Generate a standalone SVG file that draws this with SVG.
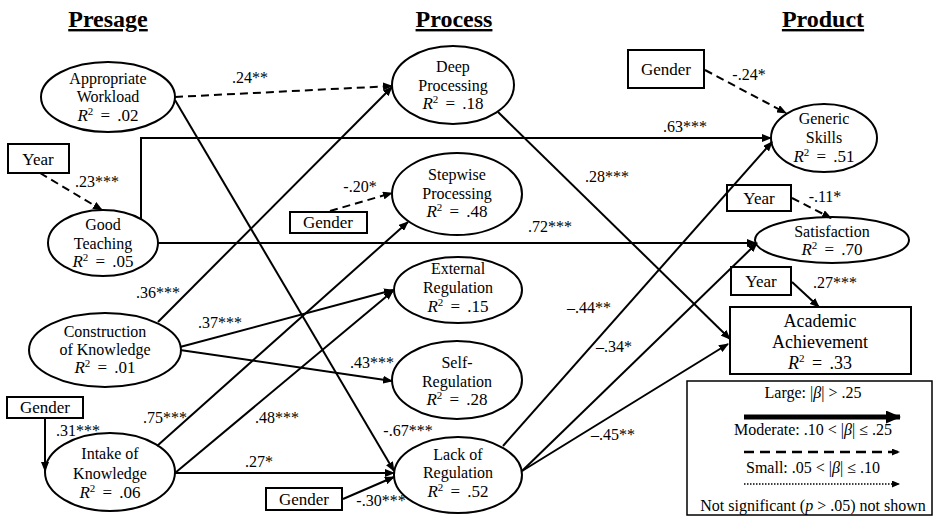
<svg xmlns="http://www.w3.org/2000/svg" width="934" height="516" viewBox="0 0 934 516" font-family="'Liberation Serif', 'DejaVu Serif', serif">
<style>
text{font-family:'Liberation Serif','DejaVu Serif',serif;font-size:16px;fill:#000;text-anchor:middle}
.title{font-size:24px;font-weight:bold;text-decoration:underline}
.box{font-size:17px}
.big{font-size:18px}
.r2{font-size:17px;word-spacing:3px}
.n ellipse,.n rect{fill:#fff;stroke:#000;stroke-width:2}
.c path{stroke:#000;stroke-width:2;fill:none}
.c .d{stroke-dasharray:8 5}
.i{font-style:italic}
.sup{font-size:11px}
</style>
<defs>
<marker id="ah" viewBox="0 0 10 8" refX="9" refY="4" markerWidth="10" markerHeight="8" markerUnits="userSpaceOnUse" orient="auto"><path d="M0,0 L10,4 L0,8 z" fill="#000"/></marker>
<marker id="ahL" viewBox="0 0 15 13" refX="14" refY="6.5" markerWidth="15" markerHeight="13" markerUnits="userSpaceOnUse" orient="auto"><path d="M0,0 L15,6.5 L0,13 z" fill="#000"/></marker>
<marker id="ahS" viewBox="0 0 8 7" refX="7" refY="3.5" markerWidth="8" markerHeight="7" markerUnits="userSpaceOnUse" orient="auto"><path d="M0,0 L8,3.5 L0,7 z" fill="#000"/></marker>
</defs>

<g id="titles">
<text class="title" x="108" y="27">Presage</text>
<text class="title" x="454" y="27">Process</text>
<text class="title" x="823" y="27">Product</text>
</g>

<g class="n">
<g id="appropriate-workload"><ellipse cx="108" cy="97" rx="67" ry="35"/><text x="108" y="84">Appropriate</text><text x="108" y="102">Workload</text><text class="r2" x="108" y="121"><tspan class="i">R</tspan><tspan class="sup" dy="-6">2</tspan><tspan dy="6"> = .02</tspan></text></g>
<g id="good-teaching"><ellipse cx="103" cy="243" rx="55" ry="33"/><text x="103" y="230">Good</text><text x="103" y="249">Teaching</text><text class="r2" x="103" y="267"><tspan class="i">R</tspan><tspan class="sup" dy="-6">2</tspan><tspan dy="6"> = .05</tspan></text></g>
<g id="construction-of-knowledge"><ellipse cx="105" cy="350" rx="76" ry="37"/><text x="105" y="337">Construction</text><text x="105" y="355">of Knowledge</text><text class="r2" x="105" y="373"><tspan class="i">R</tspan><tspan class="sup" dy="-6">2</tspan><tspan dy="6"> = .01</tspan></text></g>
<g id="intake-of-knowledge"><ellipse cx="110" cy="472" rx="65" ry="39"/><text x="110" y="459">Intake of</text><text x="110" y="479">Knowledge</text><text class="r2" x="110" y="498"><tspan class="i">R</tspan><tspan class="sup" dy="-6">2</tspan><tspan dy="6"> = .06</tspan></text></g>
<g id="deep-processing"><ellipse cx="453" cy="85" rx="61" ry="39"/><text x="453" y="72">Deep</text><text x="453" y="91">Processing</text><text class="r2" x="453" y="109"><tspan class="i">R</tspan><tspan class="sup" dy="-6">2</tspan><tspan dy="6"> = .18</tspan></text></g>
<g id="stepwise-processing"><ellipse cx="457" cy="194" rx="65" ry="41"/><text x="457" y="180">Stepwise</text><text x="457" y="199">Processing</text><text class="r2" x="457" y="217"><tspan class="i">R</tspan><tspan class="sup" dy="-6">2</tspan><tspan dy="6"> = .48</tspan></text></g>
<g id="external-regulation"><ellipse cx="458" cy="290" rx="64" ry="33"/><text x="458" y="274">External</text><text x="458" y="293">Regulation</text><text class="r2" x="458" y="312"><tspan class="i">R</tspan><tspan class="sup" dy="-6">2</tspan><tspan dy="6"> = .15</tspan></text></g>
<g id="self-regulation"><ellipse cx="457" cy="380" rx="65" ry="39"/><text x="457" y="368">Self-</text><text x="457" y="387">Regulation</text><text class="r2" x="457" y="405"><tspan class="i">R</tspan><tspan class="sup" dy="-6">2</tspan><tspan dy="6"> = .28</tspan></text></g>
<g id="lack-of-regulation"><ellipse cx="458" cy="475" rx="64" ry="38"/><text x="458" y="460">Lack of</text><text x="458" y="478">Regulation</text><text class="r2" x="458" y="497"><tspan class="i">R</tspan><tspan class="sup" dy="-6">2</tspan><tspan dy="6"> = .52</tspan></text></g>
<g id="generic-skills"><ellipse cx="824" cy="138" rx="53" ry="34"/><text x="824" y="124">Generic</text><text x="824" y="143">Skills</text><text class="r2" x="824" y="162"><tspan class="i">R</tspan><tspan class="sup" dy="-6">2</tspan><tspan dy="6"> = .51</tspan></text></g>
<g id="satisfaction"><ellipse cx="832" cy="240" rx="77" ry="23"/><text x="832" y="237">Satisfaction</text><text class="r2" x="832" y="255"><tspan class="i">R</tspan><tspan class="sup" dy="-6">2</tspan><tspan dy="6"> = .70</tspan></text></g>
<g id="academic-achievement"><rect x="730" y="307" width="181" height="67"/><text class="big" x="820" y="327">Academic</text><text class="big" x="820" y="348">Achievement</text><text class="big" x="820" y="369" word-spacing="3"><tspan class="i">R</tspan><tspan class="sup" dy="-7">2</tspan><tspan dy="7"> = .33</tspan></text></g>
<g id="year-1"><rect x="8" y="144" width="61" height="29"/><text class="box" x="38" y="165">Year</text></g>
<g id="gender-1"><rect x="290" y="212" width="77" height="21"/><text class="box" x="328" y="228">Gender</text></g>
<g id="gender-2"><rect x="7" y="397" width="76" height="21"/><text class="box" x="45" y="413">Gender</text></g>
<g id="gender-3"><rect x="266" y="488" width="76" height="22"/><text class="box" x="304" y="505">Gender</text></g>
<g id="gender-4"><rect x="628" y="50" width="76" height="38"/><text class="box" x="666" y="75">Gender</text></g>
<g id="year-2"><rect x="727" y="185" width="64" height="26"/><text class="box" x="759" y="204">Year</text></g>
<g id="year-3"><rect x="731" y="267" width="60" height="28"/><text class="box" x="761" y="287">Year</text></g>
</g>

<g id="connectors" class="c">
<path class="d" d="M175,97 L392,86" marker-end="url(#ah)"/>
<path d="M175,100 L394,471" marker-end="url(#ah)"/>
<path d="M141,219 V138 H771" marker-end="url(#ah)"/>
<path class="d" d="M40,173 L102,210" marker-end="url(#ah)"/>
<path d="M158,243 H756" marker-end="url(#ah)"/>
<path class="d" d="M330,211 L392,193" marker-end="url(#ah)"/>
<path d="M158,322 L392,87" marker-end="url(#ah)"/>
<path d="M180,347 L393,290" marker-end="url(#ah)"/>
<path d="M180,350 L392,381" marker-end="url(#ah)"/>
<path d="M157,446 L408,222" marker-end="url(#ah)"/>
<path d="M175,473 L393,291" marker-end="url(#ah)"/>
<path d="M175,473 H394" marker-end="url(#ah)"/>
<path d="M343,499 L394,477" marker-end="url(#ah)"/>
<path d="M45,418 V471" marker-end="url(#ah)"/>
<path d="M498,112 L730,339" marker-end="url(#ah)"/>
<path d="M503,446 L772,142" marker-end="url(#ah)"/>
<path d="M522,471 L757,243" marker-end="url(#ah)"/>
<path d="M522,471 L728,344" marker-end="url(#ah)"/>
<path class="d" d="M705,70 L786,113" marker-end="url(#ah)"/>
<path class="d" d="M792,198 L831,218" marker-end="url(#ah)"/>
<path d="M792,282 L819,307" marker-end="url(#ah)"/>
<text x="250" y="83">.24**</text>
<text x="408" y="436">-.67***</text>
<text x="685" y="132">.63***</text>
<text x="97" y="187">.23***</text>
<text x="550" y="232">.72***</text>
<text x="360" y="192">-.20*</text>
<text x="158" y="298">.36***</text>
<text x="220" y="328">.37***</text>
<text x="372" y="368">.43***</text>
<text x="165" y="423">.75***</text>
<text x="277" y="423">.48***</text>
<text x="259" y="467">.27*</text>
<text x="381" y="506">-.30***</text>
<text x="78" y="436">.31***</text>
<text x="607" y="182">.28***</text>
<text x="589" y="313">–.44**</text>
<text x="614" y="352">–.34*</text>
<text x="613" y="440">–.45**</text>
<text x="749" y="80">-.24*</text>
<text x="825" y="202">-.11*</text>
<text x="835" y="288">.27***</text>
</g>

<g id="legend">
<rect x="687" y="381" width="245" height="134" fill="#fff" stroke="#000" stroke-width="1.5"/>
<text x="813" y="398">Large: |<tspan class="i">β</tspan>| &gt; .25</text>
<path d="M744,417 H900" stroke="#000" stroke-width="5" marker-end="url(#ahL)"/>
<text x="813" y="435">Moderate: .10 &lt; |<tspan class="i">β</tspan>| ≤ .25</text>
<path d="M744,452 H899" stroke="#000" stroke-width="2.5" stroke-dasharray="10 6" marker-end="url(#ahS)"/>
<text x="813" y="473">Small: .05 &lt; |<tspan class="i">β</tspan>| ≤ .10</text>
<path d="M744,484 H899" stroke="#000" stroke-width="1.5" stroke-dasharray="1.5 1.5" marker-end="url(#ahS)"/>
<text x="813" y="511">Not significant (<tspan class="i">p</tspan> &gt; .05) not shown</text>
</g>
</svg>
